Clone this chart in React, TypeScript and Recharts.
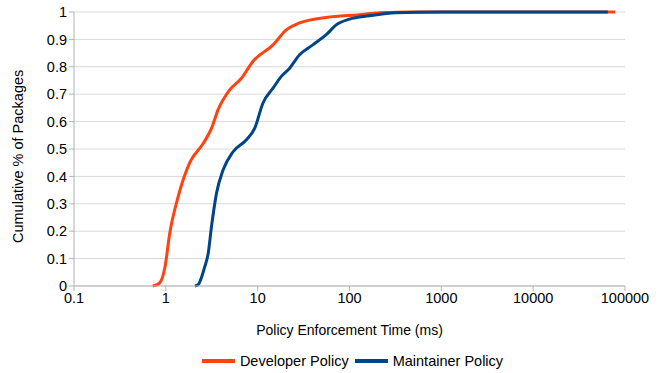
import { LineChart, Line, XAxis, YAxis, CartesianGrid, Legend } from "recharts";

// Developer policy CDF (ms, cumulative share)
const devTimes = [0.72, 0.85, 0.98, 1.1, 1.36, 1.82, 2.55, 3.14, 3.7, 4.96, 6.65, 8.9, 14.7, 20.5, 28.6, 55.8, 128, 213, 500, 78000];
const devShare = [0, 0.01, 0.07, 0.19, 0.325, 0.45, 0.52, 0.575, 0.643, 0.716, 0.758, 0.82, 0.88, 0.935, 0.96, 0.98, 0.99, 0.997, 1, 1];

// Maintainer policy CDF
const mntTimes = [2.07, 2.25, 2.65, 2.89, 3.14, 3.56, 4.2, 5.4, 7.5, 9.27, 11.4, 14.7, 18.1, 22.3, 28.6, 39.9, 55.8, 71.6, 100, 165, 318, 1000, 65000];
const mntShare = [0, 0.005, 0.07, 0.118, 0.216, 0.338, 0.423, 0.49, 0.533, 0.575, 0.667, 0.722, 0.765, 0.795, 0.844, 0.88, 0.917, 0.953, 0.974, 0.986, 0.997, 1, 1];

const xTicks = [0.1, 1, 10, 100, 1000, 10000, 100000];
const yTicks = [0, 0.1, 0.2, 0.3, 0.4, 0.5, 0.6, 0.7, 0.8, 0.9, 1];

const devData = devTimes.map((t, i) => ({ t, v: devShare[i] }));
const mntData = mntTimes.map((t, i) => ({ t, v: mntShare[i] }));

const ORANGE = "#ff420e";
const BLUE = "#004586";
const FONT = "'Liberation Sans', Arial, sans-serif";

function LegendRow() {
  const items = [
    { name: "Developer Policy", color: ORANGE },
    { name: "Maintainer Policy", color: BLUE },
  ];
  return (
    <div style={{ display: "flex", justifyContent: "center", fontFamily: FONT, fontSize: 14.5, color: "#000", paddingTop: 10, paddingLeft: 66 }}>
      {items.map((it) => (
        <div key={it.name} style={{ display: "flex", alignItems: "center", marginRight: 6 }}>
          <span style={{ display: "inline-block", width: 33, height: 4, background: it.color, marginRight: 5 }} />
          {it.name}
        </div>
      ))}
    </div>
  );
}

export default function App() {
  return (
    <div style={{ position: "absolute", left: 0, top: 0, background: "#fff" }}>
      <LineChart width={661} height={373} margin={{ top: 12, right: 36, left: 20, bottom: 0 }}>
        <CartesianGrid vertical={false} stroke="#d9d9d9" />
        <XAxis
          type="number"
          dataKey="t"
          scale="log"
          domain={[0.1, 100000]}
          ticks={xTicks}
          allowDataOverflow
          tickFormatter={(v: number) => String(v)}
          stroke="#b3b3b3"
          tickSize={5}
          tick={{ fill: "#000", fontSize: 14.5, fontFamily: FONT }}
          height={57}
          label={{ value: "Policy Enforcement Time (ms)", position: "insideBottom", offset: 8, fill: "#000", fontSize: 14, fontFamily: FONT }}
        />
        <YAxis
          type="number"
          domain={[0, 1]}
          ticks={yTicks}
          width={54}
          stroke="#b3b3b3"
          tickSize={5}
          tickFormatter={(v: number) => String(Math.round(v * 10) / 10)}
          tick={{ fill: "#000", fontSize: 14.5, fontFamily: FONT }}
          label={{ value: "Cumulative % of Packages", angle: -90, position: "insideLeft", offset: -2, dy: 94, fill: "#000", fontSize: 14.5, fontFamily: FONT }}
        />
        <Line data={devData} dataKey="v" name="Developer Policy" type="monotone" stroke={ORANGE} strokeWidth={3} dot={false} isAnimationActive={false} />
        <Line data={mntData} dataKey="v" name="Maintainer Policy" type="monotone" stroke={BLUE} strokeWidth={3} dot={false} isAnimationActive={false} />
        <Legend verticalAlign="bottom" height={30} content={() => <LegendRow />} />
      </LineChart>
    </div>
  );
}
